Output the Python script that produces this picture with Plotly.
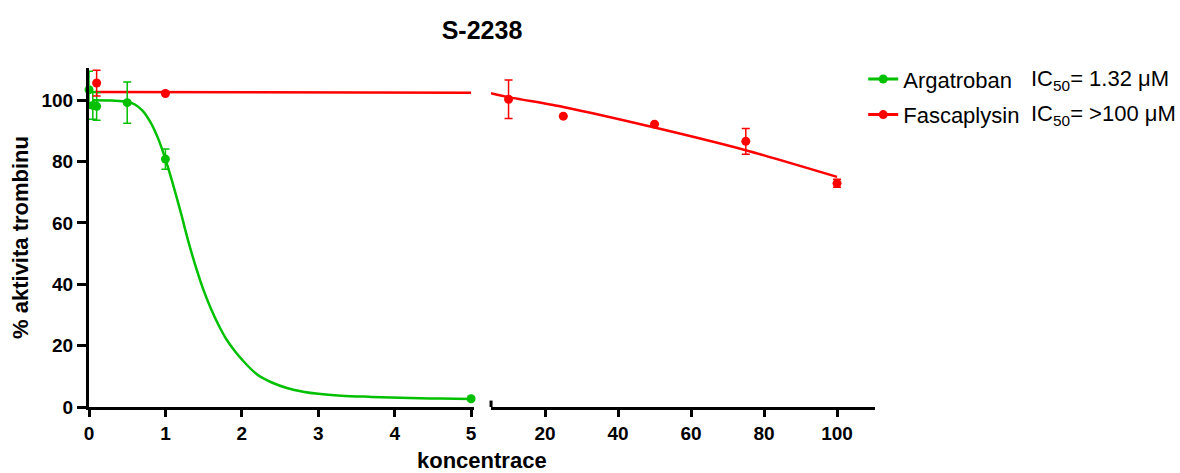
import plotly.graph_objects as go

# ---------------- data ----------------
arg_x = [0, 0.05, 0.1, 0.5, 1, 5]
arg_y = [103.4, 98.3, 98.0, 99.2, 80.8, 2.7]
arg_err = [6.0, 4.5, 4.5, 6.7, 3.3, 0]

fas_x_left = [0.1, 1]
fas_y_left = [105.6, 102.2]
fas_err_left = [4.2, 0]

fas_x_right = [10, 25, 50, 75, 100]
fas_y_right = [100.3, 94.8, 92.2, 86.6, 72.9]
fas_err_right = [6.3, 0, 0, 4.2, 1.3]

# fitted curves
arg_fit_x = [0.05, 0.3, 0.5, 0.6, 0.7, 0.8, 0.9, 1.0, 1.1, 1.2, 1.3, 1.4, 1.5, 1.6,
             1.7, 1.8, 1.9, 2.0, 2.2, 2.4, 2.6, 2.8, 3.0, 3.3, 3.7, 4.2, 4.6, 5.0]
arg_fit_y = [100.0, 99.9, 99.5, 98.6, 96.6, 93.0, 87.8, 80.8, 72.5, 63.5, 54.0, 45.5, 38.0, 31.8,
             26.5, 22.0, 18.5, 15.5, 10.6, 7.9, 6.1, 5.0, 4.3, 3.7, 3.3, 2.9, 2.75, 2.6]
fas_fit_x_left = [0.1, 5]
fas_fit_y_left = [102.7, 102.4]
fas_fit_x_right = [5.2, 10, 25, 50, 75, 100]
fas_fit_y_right = [102.3, 101.0, 97.8, 91.1, 83.7, 75.0]

names = ["Argatroban", "Fascaplysin"]
ic50_labels = ["IC<sub>50</sub>= 1.32 μM", "IC<sub>50</sub>= >100 μM"]
x_left_ticks = [0, 1, 2, 3, 4, 5]
x_right_ticks = [20, 40, 60, 80, 100]
y_ticks = [0, 20, 40, 60, 80, 100]

GREEN = "#00c000"
RED = "#ff0000"
FONT = "Arial, Liberation Sans, sans-serif"

fig = go.Figure()

# fitted curves
fig.add_trace(go.Scatter(x=arg_fit_x, y=arg_fit_y, mode="lines", line=dict(color=GREEN, width=2.5, shape="spline", smoothing=1.0),
                         xaxis="x", yaxis="y", showlegend=False, hoverinfo="skip", cliponaxis=False))
fig.add_trace(go.Scatter(x=fas_fit_x_left, y=fas_fit_y_left, mode="lines", line=dict(color=RED, width=2.5),
                         xaxis="x", yaxis="y", showlegend=False, hoverinfo="skip", cliponaxis=False))
fig.add_trace(go.Scatter(x=fas_fit_x_right, y=fas_fit_y_right, mode="lines", line=dict(color=RED, width=2.5, shape="spline", smoothing=0.6),
                         xaxis="x2", yaxis="y", showlegend=False, hoverinfo="skip", cliponaxis=False))

# data points with error bars
fig.add_trace(go.Scatter(x=arg_x, y=arg_y, mode="markers", marker=dict(color=GREEN, size=9),
                         error_y=dict(type="data", array=arg_err, color=GREEN, thickness=1.5, width=4),
                         xaxis="x", yaxis="y", showlegend=False, cliponaxis=False))
fig.add_trace(go.Scatter(x=fas_x_left, y=fas_y_left, mode="markers", marker=dict(color=RED, size=9),
                         error_y=dict(type="data", array=fas_err_left, color=RED, thickness=1.5, width=4),
                         xaxis="x", yaxis="y", showlegend=False, cliponaxis=False))
fig.add_trace(go.Scatter(x=fas_x_right, y=fas_y_right, mode="markers", marker=dict(color=RED, size=9),
                         error_y=dict(type="data", array=fas_err_right, color=RED, thickness=1.5, width=4),
                         xaxis="x2", yaxis="y", showlegend=False, cliponaxis=False))

# legend entries
for nm, col in zip(names, [GREEN, RED]):
    fig.add_trace(go.Scatter(x=[None], y=[None], mode="lines+markers", name=nm, legendgroup=nm,
                             line=dict(color=col, width=3), marker=dict(color=col, size=9),
                             xaxis="x", yaxis="y"))

axis_common = dict(showline=True, linewidth=3, linecolor="black", ticks="outside", tickwidth=3,
                   tickcolor="black", showgrid=False, zeroline=False,
                   tickfont=dict(family=FONT, size=19, color="black", weight="bold"))

fig.update_layout(
    width=1180, height=473,
    paper_bgcolor="white", plot_bgcolor="white",
    margin=dict(l=89, r=305, t=68, b=66),
    title=dict(text="<b>S-2238</b>", x=0.5, xref="paper", xanchor="center", y=1 - 30 / 473, yref="container",
               yanchor="middle", font=dict(family=FONT, size=25, color="black")),
    xaxis=dict(domain=[0, 0.49], range=[0, 5.04], tickvals=x_left_ticks, ticklen=7, anchor="y", **axis_common),
    xaxis2=dict(domain=[0.5115, 1], range=[5.2, 110.4], tickvals=x_right_ticks, ticklen=7, anchor="y", **axis_common),
    yaxis=dict(domain=[0, 1], range=[0, 110.5], tickvals=y_ticks, ticklen=9, anchor="x",
               title=dict(text="<b>% aktivita trombinu</b>", font=dict(family=FONT, size=22, color="black"), standoff=7),
               **axis_common),
    legend=dict(x=0.985, xanchor="left", y=1.029, yanchor="top", font=dict(family=FONT, size=22, color="black"),
                bgcolor="rgba(0,0,0,0)", tracegroupgap=4, itemwidth=30),
    showlegend=True,
)

# axis break mark at start of right segment
fig.add_shape(type="line", xref="x2 domain", x0=0, x1=0, yref="y", y0=-2.1, y1=2.1,
              line=dict(color="black", width=3))

# shared x axis title
fig.add_annotation(text="<b>koncentrace</b>", xref="paper", yref="paper", x=0.5, y=-0.157,
                   xanchor="center", yanchor="middle", showarrow=False,
                   font=dict(family=FONT, size=22, color="black"))

# IC50 column of legend
for lbl, yy in zip(ic50_labels, [0.9646, 0.861]):
    fig.add_annotation(text=lbl, xref="paper", yref="paper", x=1.196, y=yy, xanchor="left", yanchor="middle",
                       showarrow=False, font=dict(family=FONT, size=22, color="black"))

fig.write_html("out.html", post_script="document.body.style.margin='0';",
               config={"displayModeBar": False})
